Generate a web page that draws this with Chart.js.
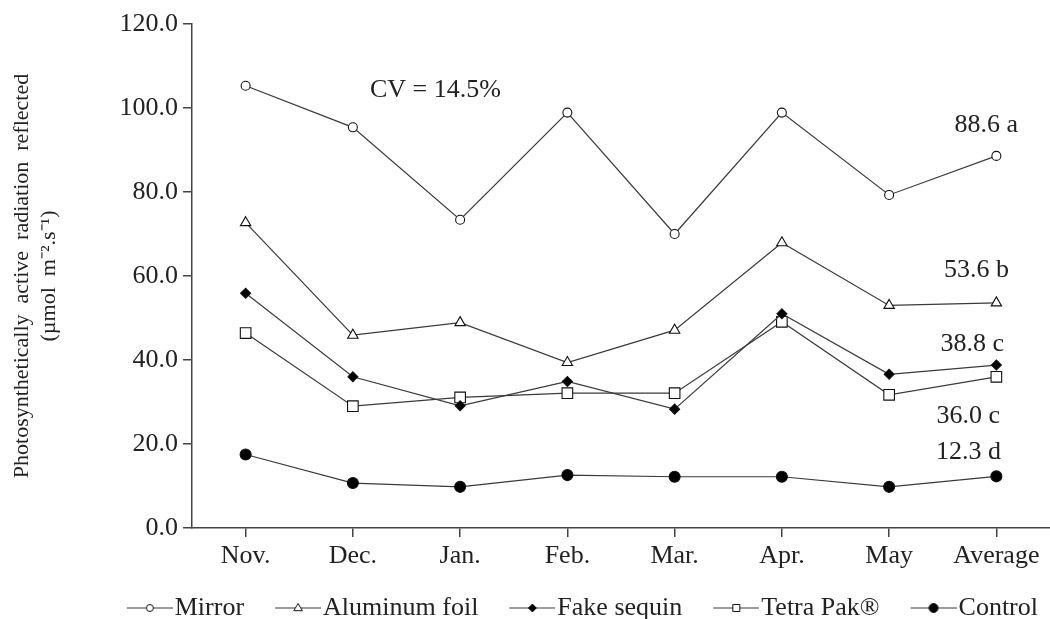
<!DOCTYPE html>
<html>
<head>
<meta charset="utf-8">
<script src="https://cdn.jsdelivr.net/npm/chart.js@4"></script>
<style>
  body { margin: 0; background: #fff; }
  #wrap { width: 1050px; height: 619px; }
</style>
</head>
<body>
<div id="wrap"><canvas id="parChart" width="1050" height="619"></canvas></div>
<script>
// months + average
const months = ["Nov.", "Dec.", "Jan.", "Feb.", "Mar.", "Apr.", "May", "Average"];

// PAR reflected (µmol m-2 s-1)
const mirror   = [105.3, 95.4, 73.4, 98.9, 70.0, 98.9, 79.3, 88.6];
const aluminum = [72.7, 45.9, 48.9, 39.4, 47.1, 67.9, 53.0, 53.6];
const sequin   = [55.9, 36.0, 29.1, 34.9, 28.3, 51.0, 36.6, 38.8];
const tetra    = [46.4, 29.0, 31.1, 32.1, 32.1, 49.1, 31.7, 36.0];
const control  = [17.5, 10.7, 9.8, 12.6, 12.2, 12.2, 9.8, 12.3];

const seriesNames = ["Mirror", "Aluminum foil", "Fake sequin", "Tetra Pak®", "Control"];
const avgLabels = ["88.6 a", "53.6 b", "38.8 c", "36.0 c", "12.3 d"];
const cvLabel = "CV = 14.5%";

const yTicks = [0, 20, 40, 60, 80, 100, 120];

const FONT = '"Liberation Serif", "Times New Roman", serif';
const INK = "#222";
const LINE = "#3a3a3a";

// legend geometry: line+marker icon drawn inside a wider transparent canvas
const LEG_PAD = 12;     // chart.js label padding
const LEG_GAP = 31;     // space between previous text and next line
const LEG_LINE = 46;    // length of the sample line
const LEG_BOX = LEG_LINE - 11 + LEG_GAP - LEG_PAD;
const LEG_W = LEG_BOX + 22;
const LEG_START = 11 + LEG_GAP - LEG_PAD;

function legendIcon(style, filled, r) {
  const c = document.createElement("canvas");
  c.width = LEG_W;
  c.height = 16;
  const g = c.getContext("2d");
  g.strokeStyle = LINE;
  g.lineWidth = 1.2;
  g.beginPath();
  g.moveTo(LEG_START, 8);
  g.lineTo(LEG_W, 8);
  g.stroke();
  const cx = LEG_START + LEG_LINE / 2, cy = 8;
  g.beginPath();
  if (style === "circle") {
    g.arc(cx, cy, r, 0, Math.PI * 2);
  } else if (style === "triangle") {
    g.moveTo(cx, cy - r);
    g.lineTo(cx + r * 0.95, cy + r * 0.6);
    g.lineTo(cx - r * 0.95, cy + r * 0.6);
    g.closePath();
  } else if (style === "rect") {
    g.rect(cx - r, cy - r, 2 * r, 2 * r);
  } else if (style === "rectRot") {
    g.moveTo(cx, cy - r);
    g.lineTo(cx + r, cy);
    g.lineTo(cx, cy + r);
    g.lineTo(cx - r, cy);
    g.closePath();
  }
  g.fillStyle = filled ? "#000" : "#fff";
  g.fill();
  g.strokeStyle = "#111";
  g.lineWidth = 1;
  g.stroke();
  return c;
}

const icons = [
  legendIcon("circle", false, 3.5),
  legendIcon("triangle", false, 4.5),
  legendIcon("rectRot", true, 4),
  legendIcon("rect", false, 3.5),
  legendIcon("circle", true, 4.5)
];

function makeSet(label, data, style, filled, radius) {
  return {
    label: label,
    data: data,
    borderColor: LINE,
    borderWidth: 1.2,
    tension: 0,
    pointStyle: style,
    pointRadius: radius,
    pointHoverRadius: radius,
    pointBorderColor: "#111",
    pointBorderWidth: 1.1,
    pointBackgroundColor: filled ? "#000" : "#fff"
  };
}

// text labels next to the Average points, offsets in px from each point
const avgOffsets = [[-10, -31], [-20, -33], [-24, -21], [-28, 39], [-28, -24]];

const annotate = {
  id: "annotate",
  afterDatasetsDraw(chart) {
    const ctx = chart.ctx;
    const xs = chart.scales.x, ys = chart.scales.y;
    const series = [mirror, aluminum, sequin, tetra, control];
    ctx.save();
    ctx.font = "26px " + FONT;
    ctx.fillStyle = INK;
    ctx.textAlign = "center";
    ctx.textBaseline = "middle";
    const last = months.length - 1;
    avgLabels.forEach((t, i) => {
      const px = xs.getPixelForValue(last) + avgOffsets[i][0];
      const py = ys.getPixelForValue(series[i][last]) + avgOffsets[i][1];
      ctx.fillText(t, px, py);
    });
    ctx.fillText(cvLabel, xs.getPixelForValue(1.77), ys.getPixelForValue(104.3));
    ctx.restore();
  }
};

Chart.defaults.font.family = FONT;
Chart.defaults.color = INK;

new Chart(document.getElementById("parChart"), {
  type: "line",
  data: {
    labels: months,
    datasets: [
      makeSet(seriesNames[0], mirror, "circle", false, 4.5),
      makeSet(seriesNames[1], aluminum, "triangle", false, 6),
      makeSet(seriesNames[2], sequin, "rectRot", true, 5),
      makeSet(seriesNames[3], tetra, "rect", false, 7.5),
      makeSet(seriesNames[4], control, "circle", true, 5.5)
    ]
  },
  options: {
    responsive: false,
    devicePixelRatio: 1,
    animation: false,
    layout: { autoPadding: false, padding: { left: 0, right: 0, top: 24, bottom: -12 } },
    plugins: {
      tooltip: { enabled: false },
      legend: {
        position: "bottom",
        align: "end",
        labels: {
          usePointStyle: true,
          pointStyleWidth: LEG_BOX,
          padding: LEG_PAD,
          color: INK,
          font: { size: 26, family: FONT },
          generateLabels(chart) {
            const items = Chart.defaults.plugins.legend.labels.generateLabels(chart);
            items.forEach((it, i) => { it.pointStyle = icons[i]; });
            return items;
          }
        }
      }
    },
    scales: {
      x: {
        offset: true,
        border: { color: "#444", width: 1.5 },
        grid: { drawOnChartArea: false, drawTicks: true, tickLength: 9, color: "#444", lineWidth: 1.5 },
        ticks: { maxRotation: 0, autoSkip: false, padding: 4, font: { size: 26 }, color: INK },
        afterFit(scale) {
          scale.height = 55;
          scale.paddingLeft = 0;
          scale.paddingRight = 0;
        }
      },
      y: {
        min: 0,
        max: 120,
        afterBuildTicks(scale) { scale.ticks = yTicks.map(v => ({ value: v })); },
        border: { color: "#444", width: 1.5 },
        grid: { drawOnChartArea: false, drawTicks: true, tickLength: 9, color: "#444", lineWidth: 1.5 },
        ticks: { padding: 5, font: { size: 26 }, color: INK, callback: v => Number(v).toFixed(1) },
        title: {
          display: true,
          text: ["Photosynthetically  active  radiation  reflected", "(µmol  m⁻².s⁻¹)"],
          font: { size: 22, family: FONT, lineHeight: 1.25 },
          color: INK,
          padding: { top: 8, bottom: 0 }
        },
        afterFit(scale) { scale.width = 192; }
      }
    }
  },
  plugins: [annotate]
});
</script>
</body>
</html>
